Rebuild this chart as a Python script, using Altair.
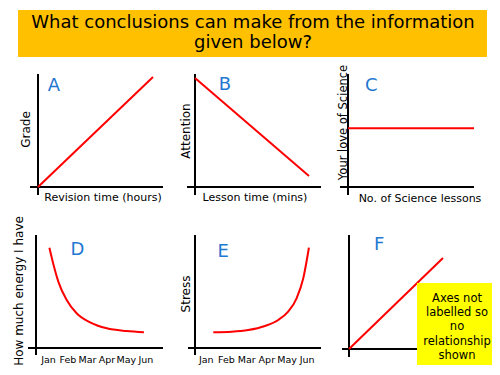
import json
import altair as alt
import pandas as pd

# ---------------- data ----------------
title_lines = ["What conclusions can make from the information", "given below?"]
letters = ["A", "B", "C", "D", "E", "F"]
months = ["Jan", "Feb", "Mar", "Apr", "May", "Jun"]
note_lines = ["Axes not", "labelled so", "no", "relationship", "shown"]

a_hours = [0, 10]
a_grade = [0, 10]
b_minutes = [0, 60]
b_attention = [9.65, 0.97]
c_lessons = [0, 20]
c_love = [5.2, 5.2]
d_month = [0.07, 0.27, 0.53, 0.96, 1.47, 2.16, 3.02, 4.04, 4.93]
d_energy = [8.88, 7.45, 5.87, 4.25, 3.07, 2.27, 1.74, 1.50, 1.39]
e_month = [0.37, 1.28, 2.10, 2.93, 3.59, 4.08, 4.50, 4.83, 5.11]
e_stress = [1.39, 1.44, 1.59, 1.95, 2.48, 3.22, 4.40, 6.17, 8.88]
f_x = [0, 10]
f_y = [0, 10]

x_titles = {"A": "Revision time (hours)", "B": "Lesson time (mins)", "C": "No. of Science lessons"}
y_titles = {"A": "Grade", "B": "Attention", "C": "Your love of Science",
            "D": "How much energy I have", "E": "Stress"}

# ---------------- layout / style ----------------
W, H = 484, 359
FONT = "DejaVu Sans"
RED = "#FF0000"
BLUE = "#1F78D1"
ORANGE = "#FFC000"
YELLOW = "#FFFF00"

geo = {
    "A": dict(xdom=[0, 10], xr=[30, 145], ydom=[0, 10], yr=[179, 69],
              v=(30, 66, 187), h=(179, 22, 155), let=(45.8, 82.7),
              xt=dict(pad=4, x=94.5), yt=dict(pad=5.5, y=121, size=12)),
    "B": dict(xdom=[0, 60], xr=[187, 301], ydom=[0, 10], yr=[179, 66],
              v=(187, 66, 187), h=(179, 179, 313), let=(217, 82),
              xt=dict(pad=4, x=246.5), yt=dict(pad=2.5, y=122.5, size=12)),
    "C": dict(xdom=[0, 20], xr=[340, 466], ydom=[0, 10], yr=[179, 66],
              v=(340, 66, 187), h=(179, 332, 466), let=(363.3, 82.7),
              xt=dict(pad=5, x=411.5), yt=dict(pad=0, y=114, size=11.5)),
    "D": dict(xdom=[0, 5], xr=[40, 137.3], ydom=[0, 10], yr=[340, 227],
              v=(28, 227, 347), h=(340, 20, 155), let=(69.5, 247),
              lab=dict(pad=6), yt=dict(pad=10.3, y=282.5, size=12)),
    "E": dict(xdom=[0, 5], xr=[197.8, 298.7], ydom=[0, 10], yr=[340, 227],
              v=(187, 227, 347), h=(340, 180, 313), let=(215.3, 248.7),
              lab=dict(pad=6), yt=dict(pad=2.5, y=285.5, size=12)),
    "F": dict(xdom=[0, 10], xr=[341, 435], ydom=[0, 10], yr=[341, 250],
              v=(341, 227, 349), h=(341, 334, 420), let=(371.2, 242)),
}

series = {
    "A": (a_hours, a_grade, "linear"),
    "B": (b_minutes, b_attention, "linear"),
    "C": (c_lessons, c_love, "linear"),
    "D": (d_month, d_energy, "monotone"),
    "E": (e_month, e_stress, "monotone"),
    "F": (f_x, f_y, "linear"),
}

one = pd.DataFrame({"k": [0]})
month_expr = json.dumps(months) + "[datum.value]"

layers = []

# banner
layers.append(alt.Chart(one).mark_rect(color=ORANGE).encode(
    x=alt.value(10), x2=alt.value(479), y=alt.value(2), y2=alt.value(49)))
layers.append(alt.Chart(pd.DataFrame({"t": ["\n".join(title_lines)]})).mark_text(
    fontSize=18, lineHeight=20, lineBreak="\n", align="center", baseline="middle", color="black"
).encode(text="t:N", x=alt.value(245), y=alt.value(15.3)))

for key in letters:
    g = geo[key]
    vx, vy0, vy1 = g["v"]
    hy, hx0, hx1 = g["h"]
    layers.append(alt.Chart(one).mark_rule(color="black", strokeWidth=2).encode(
        x=alt.value(vx), y=alt.value(vy0), y2=alt.value(vy1)))
    layers.append(alt.Chart(one).mark_rule(color="black", strokeWidth=2).encode(
        y=alt.value(hy), x=alt.value(hx0), x2=alt.value(hx1)))

    # axes
    if "xt" in g:
        xaxis = alt.Axis(orient="bottom", offset=g["yr"][0] - H, domain=False, ticks=False,
                         labels=False, grid=False, title=x_titles[key], titleFontSize=11,
                         titleFontWeight="normal", titleColor="black",
                         titlePadding=g["xt"]["pad"], titleX=g["xt"]["x"], minExtent=0)
    elif "lab" in g:
        xaxis = alt.Axis(orient="bottom", offset=g["yr"][0] - H, domain=False, ticks=False,
                         tickSize=0, grid=False, values=[0, 1, 2, 3, 4, 5], labelExpr=month_expr,
                         labelFontSize=9.5, labelColor="black", labelPadding=g["lab"]["pad"],
                         labelFlush=False, labelOverlap=False, title=None, minExtent=0)
    else:
        xaxis = None
    if "yt" in g:
        yaxis = alt.Axis(orient="left", offset=-g["v"][0], domain=False, ticks=False,
                         labels=False, grid=False, title=y_titles[key],
                         titleFontSize=g["yt"]["size"], titleFontWeight="normal",
                         titleColor="black", titlePadding=g["yt"]["pad"],
                         titleY=g["yt"]["y"], minExtent=0)
    else:
        yaxis = None

    xs, ys, interp = series[key]
    df = pd.DataFrame({"x": xs, "y": ys})
    layers.append(alt.Chart(df).mark_line(color=RED, strokeWidth=2, interpolate=interp).encode(
        x=alt.X("x:Q", scale=alt.Scale(domain=g["xdom"], range=g["xr"], nice=False, zero=False),
                axis=xaxis),
        y=alt.Y("y:Q", scale=alt.Scale(domain=g["ydom"], range=g["yr"], nice=False, zero=False),
                axis=yaxis),
    ))

    lx, ly = g["let"]
    layers.append(alt.Chart(pd.DataFrame({"t": [key]})).mark_text(
        fontSize=18, color=BLUE, align="center", baseline="alphabetic"
    ).encode(text="t:N", x=alt.value(lx), y=alt.value(ly)))

# note box in panel F
layers.append(alt.Chart(one).mark_rect(color=YELLOW).encode(
    x=alt.value(409), x2=alt.value(484), y=alt.value(275), y2=alt.value(357)))
layers.append(alt.Chart(pd.DataFrame({"t": ["\n".join(note_lines)]})).mark_text(
    fontSize=11.5, lineHeight=14.4, lineBreak="\n", align="center", baseline="top", color="black"
).encode(text="t:N", x=alt.value(449), y=alt.value(284.5)))

chart = alt.layer(*layers).resolve_scale(
    x="independent", y="independent"
).resolve_axis(
    x="independent", y="independent"
).properties(
    width=W, height=H, padding=0, autosize=alt.AutoSizeParams(type="none")
).configure(font=FONT).configure_view(strokeWidth=0)

chart.save("out.html", embed_options={"renderer": "svg", "actions": False})
